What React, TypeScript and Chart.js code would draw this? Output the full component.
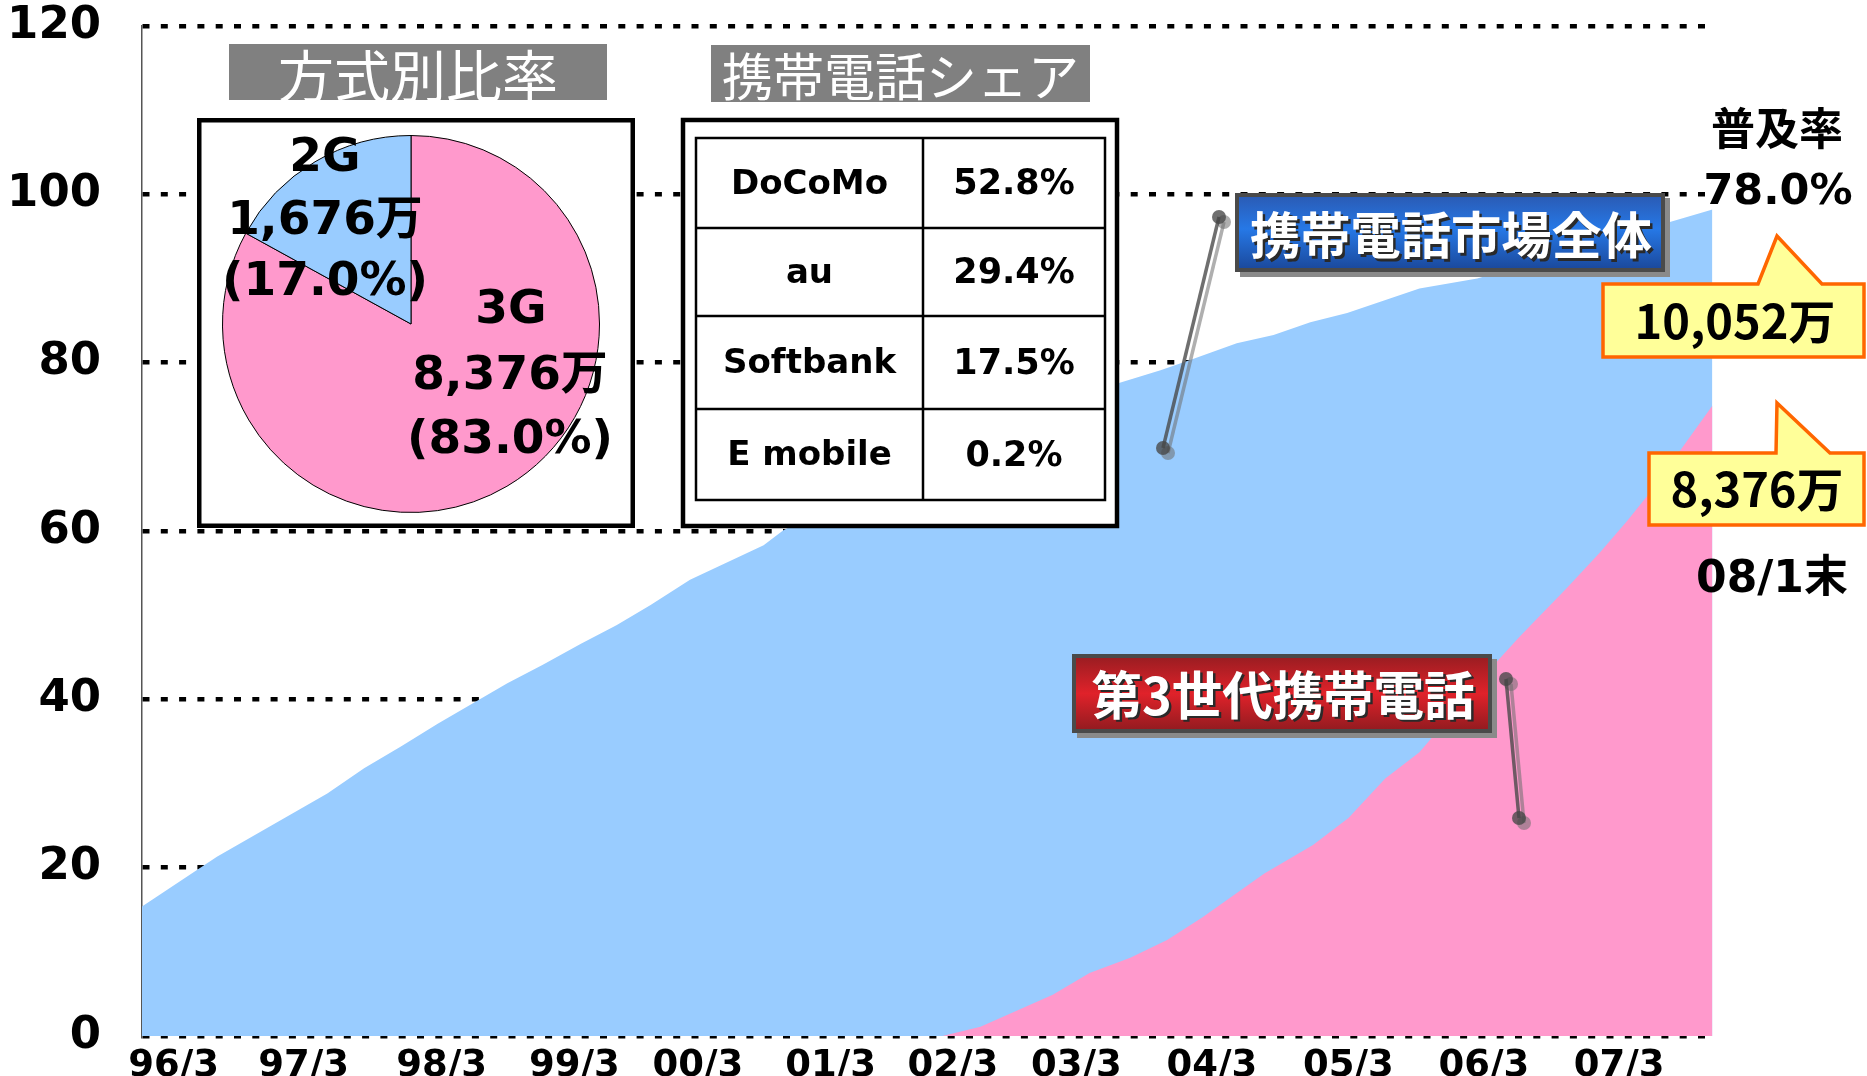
import React, { useEffect, useRef } from 'react';
import { Chart, registerables } from 'chart.js';

Chart.register(...registerables);

const W = 1867;
const H = 1076;

// x positions are measured in years after 1996/3 along the axis
const xTickValues = [0, 0.99, 2.04, 3.05, 3.99, 5.0, 5.93, 6.87, 7.9, 8.94, 9.97, 11.0];
const xTickLabels = ['96/3', '97/3', '98/3', '99/3', '00/3', '01/3', '02/3', '03/3', '04/3', '05/3', '06/3', '07/3'];
const xMin = -0.24;
const xMax = 11.71;

// 携帯電話市場全体 (百万)
const totalX = [-0.24, 0.33, 1.17, 1.45, 1.73, 2.01, 2.54, 2.81, 3.1, 3.37, 3.63, 3.93, 4.49, 4.64, 5.15, 5.91, 6.67, 7.2, 7.51, 7.73, 8.09, 8.37, 8.65, 8.93, 9.48, 9.92, 11.71];
const totalY = [15.4, 21.3, 28.8, 31.8, 34.4, 37.1, 41.9, 44.1, 46.6, 48.8, 51.2, 54.2, 58.3, 60.1, 64.2, 69.8, 74.6, 77.6, 79.1, 80.3, 82.3, 83.3, 84.8, 85.9, 88.8, 90.0, 98.2];

// 第3世代携帯電話 (百万)
const g3X = [-0.24, 5.85, 6.14, 6.69, 6.97, 7.28, 7.56, 7.83, 8.3, 8.67, 8.94, 9.22, 9.48, 10.07, 10.24, 10.6, 10.85, 11.06, 11.23, 11.71];
const g3Y = [0, 0, 1.1, 4.9, 7.5, 9.3, 11.4, 14.1, 19.3, 22.7, 25.9, 30.6, 33.7, 44.5, 47.4, 53.2, 57.4, 61.2, 64.5, 74.9];

// 方式別比率
const pieLabels = ['3G', '2G'];
const pieValues = [83.0, 17.0];
const pieCounts = ['8,376万', '1,676万'];

// 携帯電話シェア
const carriers = ['DoCoMo', 'au', 'Softbank', 'E mobile'];
const shares = ['52.8%', '29.4%', '17.5%', '0.2%'];

const BLUE = '#99CCFF';
const PINK = '#FF99CC';
const DJ = '"DejaVu Sans", "Noto Sans CJK JP", sans-serif';
const CJK = '"Noto Sans CJK JP", "Noto Sans CJK SC", sans-serif';

function text(ctx: CanvasRenderingContext2D, s: string, cx: number, cy: number, font: string, color: string, width?: number) {
  ctx.save();
  ctx.font = font;
  ctx.fillStyle = color;
  ctx.textAlign = 'center';
  ctx.textBaseline = 'middle';
  if (width) {
    const m = ctx.measureText(s).width;
    const k = width / m;
    ctx.translate(cx, cy);
    ctx.scale(k, 1);
    ctx.fillText(s, 0, 0);
  } else {
    ctx.fillText(s, cx, cy);
  }
  ctx.restore();
}

function titleBox(ctx: CanvasRenderingContext2D, x: number, y: number, w: number, h: number, s: string, size: number, baseline: number) {
  ctx.save();
  ctx.fillStyle = '#808080';
  ctx.fillRect(x, y, w, h);
  ctx.beginPath();
  ctx.rect(x, y, w, h);
  ctx.clip();
  ctx.font = `400 ${size}px ${CJK}`;
  ctx.fillStyle = '#fff';
  ctx.textAlign = 'center';
  ctx.textBaseline = 'alphabetic';
  ctx.fillText(s, x + w / 2, baseline);
  ctx.restore();
}

function labelBox(ctx: CanvasRenderingContext2D, x: number, y: number, w: number, h: number, stops: [number, string][], s: string, cx: number, cy: number, size: number, tw: number) {
  ctx.save();
  ctx.fillStyle = '#8a8a8a';
  ctx.fillRect(x + 5, y + 5, w, h);
  ctx.fillStyle = '#4a4a4a';
  ctx.fillRect(x, y, w, h);
  const g = ctx.createLinearGradient(0, y + 4, 0, y + h - 4);
  stops.forEach(([o, c]) => g.addColorStop(o, c));
  ctx.fillStyle = g;
  ctx.fillRect(x + 4, y + 4, w - 8, h - 8);
  ctx.restore();
  text(ctx, s, cx + 2.5, cy + 2.5, `bold ${size}px ${CJK}`, '#2a2a2a', tw);
  text(ctx, s, cx, cy, `bold ${size}px ${CJK}`, '#ffffff', tw);
}

function connector(ctx: CanvasRenderingContext2D, x1: number, y1: number, x2: number, y2: number) {
  ctx.save();
  const seg = (dx: number, dy: number, color: string) => {
    ctx.strokeStyle = color;
    ctx.fillStyle = color;
    ctx.lineWidth = 3.5;
    ctx.beginPath();
    ctx.moveTo(x1 + dx, y1 + dy);
    ctx.lineTo(x2 + dx, y2 + dy);
    ctx.stroke();
    ctx.beginPath();
    ctx.arc(x1 + dx, y1 + dy, 7, 0, Math.PI * 2);
    ctx.fill();
    ctx.beginPath();
    ctx.arc(x2 + dx, y2 + dy, 7, 0, Math.PI * 2);
    ctx.fill();
  };
  seg(5, 5, 'rgba(110,110,110,0.55)');
  seg(0, 0, 'rgba(70,70,70,0.78)');
  ctx.restore();
}

function callout(ctx: CanvasRenderingContext2D, pts: number[][], s: string, cx: number, cy: number) {
  ctx.save();
  ctx.beginPath();
  pts.forEach(([x, y], i) => (i ? ctx.lineTo(x, y) : ctx.moveTo(x, y)));
  ctx.closePath();
  ctx.fillStyle = '#FFFF99';
  ctx.fill();
  ctx.lineWidth = 3.5;
  ctx.lineJoin = 'miter';
  ctx.strokeStyle = '#FF6600';
  ctx.stroke();
  ctx.restore();
  text(ctx, s, cx, cy, `bold 47px ${CJK}`, '#000');
}

const overlayPlugin = {
  id: 'overlay',
  afterDraw(chart: any) {
    const ctx: CanvasRenderingContext2D = chart.ctx;

    // title boxes
    titleBox(ctx, 229, 44, 378, 56, '方式別比率', 56, 97);
    titleBox(ctx, 711, 45, 379, 57, '携帯電話シェア', 51, 96);

    // share table
    ctx.save();
    ctx.fillStyle = '#fff';
    ctx.fillRect(681, 118, 438, 410);
    ctx.lineWidth = 4.5;
    ctx.strokeStyle = '#000';
    ctx.strokeRect(683, 120, 434, 406);
    ctx.lineWidth = 2.5;
    const tl = 696, tr = 1105, tc = 923;
    const rows = [138, 228, 316, 409, 500];
    ctx.strokeRect(tl, rows[0], tr - tl, rows[4] - rows[0]);
    ctx.beginPath();
    ctx.moveTo(tc, rows[0]);
    ctx.lineTo(tc, rows[4]);
    for (let i = 1; i < 4; i++) {
      ctx.moveTo(tl, rows[i]);
      ctx.lineTo(tr, rows[i]);
    }
    ctx.stroke();
    ctx.restore();
    carriers.forEach((c, i) => {
      const cy = (rows[i] + rows[i + 1]) / 2 + 2;
      text(ctx, c, (tl + tc) / 2, cy, `bold 34px ${DJ}`, '#000');
      text(ctx, shares[i], (tc + tr) / 2, cy, `bold 35px ${DJ}`, '#000');
    });

    // series labels
    connector(ctx, 1163, 448, 1219, 217);
    labelBox(ctx, 1235, 193, 430, 79, [[0, '#2a5cb6'], [0.45, '#2678e6'], [1, '#1b4a9e']], '携帯電話市場全体', 1451, 235, 50, 402);
    connector(ctx, 1506, 679, 1519, 818);
    labelBox(ctx, 1072, 654, 420, 79, [[0, '#9c1d22'], [0.5, '#e0222a'], [1, '#951b20']], '第3世代携帯電話', 1283, 695, 52, 383);

    // right side notes
    text(ctx, '普及率', 1777, 128, `bold 44px ${CJK}`, '#000');
    text(ctx, '78.0%', 1778, 193, `bold 43px ${DJ}`, '#000');
    callout(ctx, [[1603, 284], [1758, 284], [1777, 236], [1822, 284], [1864, 284], [1864, 357], [1603, 357]], '10,052万', 1735, 321);
    callout(ctx, [[1649, 453], [1776, 453], [1777, 403], [1830, 453], [1864, 453], [1864, 525], [1649, 525]], '8,376万', 1757, 489);
    text(ctx, '08/1末', 1772, 581, `bold 44px ${DJ}`, '#000');
  },
};

const pieFramePlugin = {
  id: 'pieFrame',
  beforeDraw(chart: any) {
    const ctx: CanvasRenderingContext2D = chart.ctx;
    ctx.save();
    ctx.fillStyle = '#fff';
    ctx.fillRect(0, 0, chart.width, chart.height);
    ctx.lineWidth = 4.5;
    ctx.strokeStyle = '#000';
    ctx.strokeRect(2.25, 2.25, chart.width - 4.5, chart.height - 4.5);
    ctx.restore();
  },
  afterDraw(chart: any) {
    const ctx: CanvasRenderingContext2D = chart.ctx;
    const f = `bold 47px ${DJ}`;
    // 2G
    text(ctx, pieLabels[1], 128, 41, f, '#000');
    text(ctx, pieCounts[1], 128, 104, f, '#000');
    text(ctx, `(${pieValues[1].toFixed(1)}%)`, 128, 165, f, '#000');
    // 3G
    text(ctx, pieLabels[0], 314, 193, f, '#000');
    text(ctx, pieCounts[0], 313, 259, f, '#000');
    text(ctx, `(${pieValues[0].toFixed(1)}%)`, 313, 323, f, '#000');
  },
};

export default function App() {
  const mainRef = useRef<HTMLCanvasElement>(null);
  const pieRef = useRef<HTMLCanvasElement>(null);

  useEffect(() => {
    const main = new Chart(mainRef.current as HTMLCanvasElement, {
      type: 'line',
      data: {
        datasets: [
          {
            label: '第3世代携帯電話',
            data: g3X.map((x, i) => ({ x, y: g3Y[i] })),
            backgroundColor: PINK,
            borderWidth: 0,
            pointRadius: 0,
            fill: 'origin',
            tension: 0,
          },
          {
            label: '携帯電話市場全体',
            data: totalX.map((x, i) => ({ x, y: totalY[i] })),
            backgroundColor: BLUE,
            borderWidth: 0,
            pointRadius: 0,
            fill: 'origin',
            tension: 0,
          },
        ],
      },
      options: {
        animation: false,
        responsive: false,
        devicePixelRatio: 1,
        layout: { autoPadding: false, padding: { left: 0, right: W - 1712.5, top: 26, bottom: 0 } },
        plugins: { legend: { display: false }, tooltip: { enabled: false } },
        scales: {
          x: {
            type: 'linear',
            min: xMin,
            max: xMax,
            grid: { display: false },
            border: { display: false },
            afterBuildTicks: (s: any) => {
              s.ticks = xTickValues.map((v) => ({ value: v }));
            },
            afterFit: (s: any) => {
              s.height = 40;
              s.paddingLeft = 0;
              s.paddingRight = 0;
            },
            ticks: {
              autoSkip: false,
              maxRotation: 0,
              padding: 0,
              color: '#000',
              font: { family: DJ, size: 37, weight: 'bold' },
              callback: (_v: any, i: number) => xTickLabels[i],
            },
          },
          y: {
            min: 0,
            max: 120,
            afterFit: (s: any) => {
              s.width = 142;
              s.paddingTop = 0;
              s.paddingBottom = 0;
            },
            grid: { color: '#000', lineWidth: 4.5, drawTicks: false },
            border: { display: true, color: '#555', width: 1.5, dash: [7, 11.3] },
            ticks: {
              stepSize: 20,
              padding: 41,
              color: '#000',
              font: { family: DJ, size: 45, weight: 'bold' },
            },
          },
        },
      } as any,
      plugins: [overlayPlugin],
    });

    const pie = new Chart(pieRef.current as HTMLCanvasElement, {
      type: 'pie',
      data: {
        labels: pieLabels,
        datasets: [
          {
            data: pieValues,
            backgroundColor: [PINK, BLUE],
            borderColor: '#000',
            borderWidth: 1,
          },
        ],
      },
      options: {
        animation: false,
        responsive: false,
        devicePixelRatio: 1,
        layout: { padding: { left: 25, right: 35, top: 17, bottom: 15 } },
        plugins: { legend: { display: false }, tooltip: { enabled: false } },
      } as any,
      plugins: [pieFramePlugin],
    });

    return () => {
      main.destroy();
      pie.destroy();
    };
  }, []);

  return (
    <div style={{ position: 'absolute', left: 0, top: 0, width: W, height: H, background: '#fff', overflow: 'hidden' }}>
      <canvas ref={mainRef} width={W} height={H} style={{ position: 'absolute', left: 0, top: 0, width: W, height: H }} />
      <canvas ref={pieRef} width={438} height={410} style={{ position: 'absolute', left: 197, top: 118, width: 438, height: 410 }} />
    </div>
  );
}
